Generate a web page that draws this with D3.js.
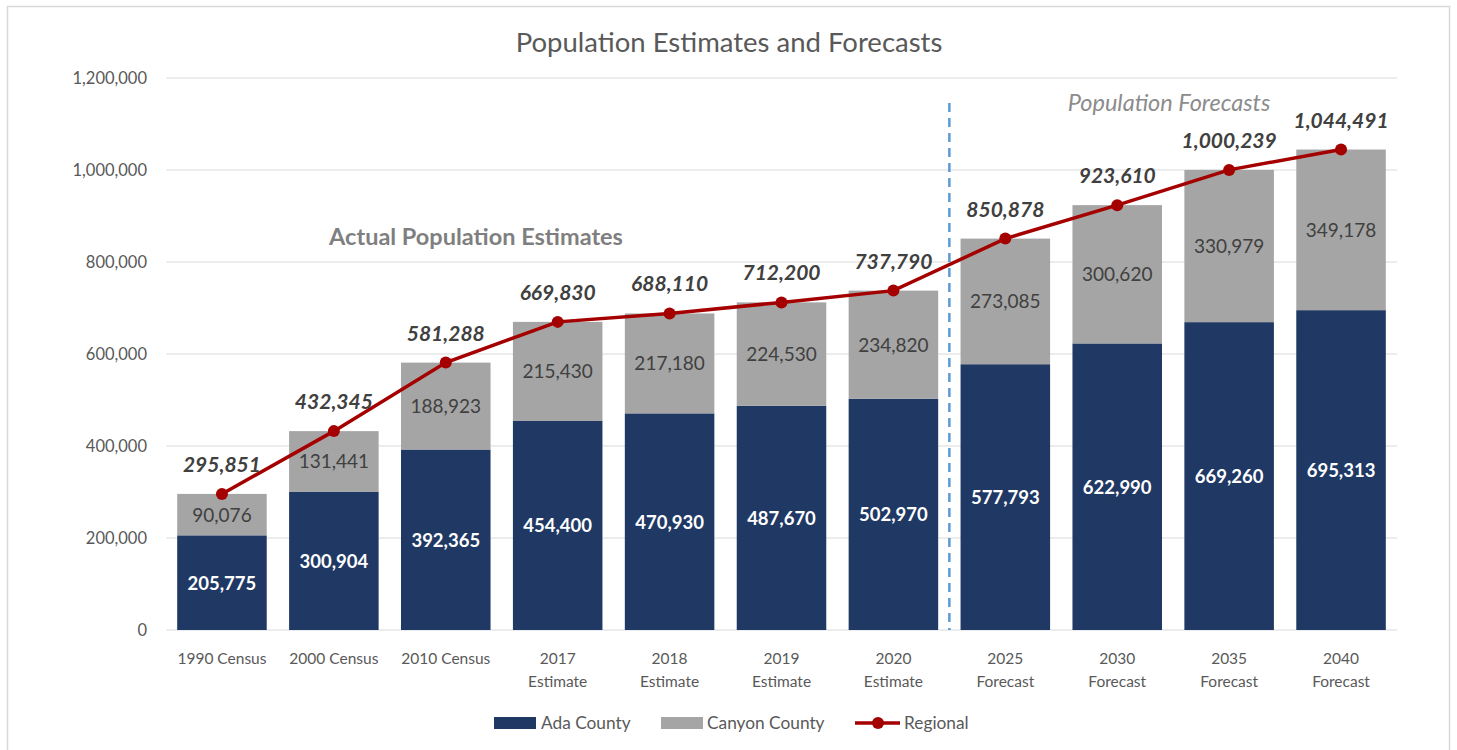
<!DOCTYPE html>
<html>
<head>
<meta charset="utf-8">
<script src="https://cdnjs.cloudflare.com/ajax/libs/d3/7.8.5/d3.min.js"></script>
<style>
  body { margin: 0; background: #fff; }
  text { font-family: Lato, "Open Sans", sans-serif; }
</style>
</head>
<body>
<div id="chart"></div>
<script>
// categories (line 1 / line 2 of x label)
let categories = ["1990 Census","2000 Census","2010 Census","2017 Estimate","2018 Estimate","2019 Estimate","2020 Estimate","2025 Forecast","2030 Forecast","2035 Forecast","2040 Forecast"];
let labelLines = [["1990 Census"],["2000 Census"],["2010 Census"],["2017","Estimate"],["2018","Estimate"],["2019","Estimate"],["2020","Estimate"],["2025","Forecast"],["2030","Forecast"],["2035","Forecast"],["2040","Forecast"]];
let ada = [205775,300904,392365,454400,470930,487670,502970,577793,622990,669260,695313];
let canyon = [90076,131441,188923,215430,217180,224530,234820,273085,300620,330979,349178];
let regional = [295851,432345,581288,669830,688110,712200,737790,850878,923610,1000239,1044491];
let yTicks = [0,200000,400000,600000,800000,1000000,1200000];

let width = 1457, height = 750;
let margin = {left:166, right:60, top:78, bottom:120};
let svg = d3.select("#chart").append("svg")
    .attr("width", width)
    .attr("height", height);

// outer frame
svg.append("rect")
    .attr("x",7.5).attr("y",6.5)
    .attr("width",1442).attr("height",760)
    .attr("fill","none").attr("stroke","#d9d9d9").attr("stroke-width",1.5);

let x = d3.scaleBand()
    .domain(categories)
    .range([margin.left, width - margin.right - 0])
    .paddingInner(0.2).paddingOuter(0.1);
let y = d3.scaleLinear()
    .domain([0,1200000])
    .range([630, 78]);

// title
svg.append("text")
    .attr("x", 729).attr("y", 52)
    .attr("text-anchor","middle")
    .attr("font-size", 27.5)
    .attr("fill","#595959")
    .text("Population Estimates and Forecasts");

// gridlines + y labels
let fmt = d3.format(",");
let yAxis = svg.append("g");
yAxis.selectAll("line").data(yTicks).enter().append("line")
    .attr("x1", margin.left).attr("x2", 1397)
    .attr("y1", d => y(d)).attr("y2", d => y(d))
    .attr("stroke","#d9d9d9").attr("stroke-width",1.2);
yAxis.selectAll("text").data(yTicks).enter().append("text")
    .attr("x", 147).attr("y", d => y(d) + 6)
    .attr("text-anchor","end")
    .attr("font-size", 16.5)
    .attr("fill","#595959")
    .text(d => fmt(d));

// stacked bars
let bars = svg.append("g");
bars.selectAll(".ada").data(categories).enter().append("rect")
    .attr("x", d => x(d)).attr("width", x.bandwidth())
    .attr("y", (d,i) => y(ada[i]))
    .attr("height", (d,i) => y(0) - y(ada[i]))
    .attr("fill","#203864");
bars.selectAll(".canyon").data(categories).enter().append("rect")
    .attr("x", d => x(d)).attr("width", x.bandwidth())
    .attr("y", (d,i) => y(ada[i] + canyon[i]))
    .attr("height", (d,i) => y(ada[i]) - y(ada[i] + canyon[i]))
    .attr("fill","#a5a5a5");

// bar labels
let cx = d => x(d) + x.bandwidth()/2;
svg.append("g").selectAll("text").data(categories).enter().append("text")
    .attr("x", cx)
    .attr("y", (d,i) => y(ada[i]/2) + 7)
    .attr("text-anchor","middle")
    .attr("font-size", 18.5).attr("font-weight","bold")
    .attr("fill","#fff")
    .text((d,i) => fmt(ada[i]));
svg.append("g").selectAll("text").data(categories).enter().append("text")
    .attr("x", cx)
    .attr("y", (d,i) => y(ada[i] + canyon[i]/2) + 7)
    .attr("text-anchor","middle")
    .attr("font-size", 19)
    .attr("fill","#404040")
    .text((d,i) => fmt(canyon[i]));

// divider between estimates and forecasts
let divX = (cx(categories[6]) + cx(categories[7])) / 2;
svg.append("line")
    .attr("x1", divX).attr("x2", divX)
    .attr("y1", 103).attr("y2", 630)
    .attr("stroke","#5b9bd5").attr("stroke-width",2.5)
    .attr("stroke-dasharray","9,6");

// regional line
let line = d3.line()
    .x((d,i) => cx(categories[i]))
    .y(d => y(d));
svg.append("path")
    .datum(regional)
    .attr("d", line)
    .attr("fill","none")
    .attr("stroke","#a50000")
    .attr("stroke-width",3.5);
svg.append("g").selectAll("circle").data(regional).enter().append("circle")
    .attr("cx", (d,i) => cx(categories[i]))
    .attr("cy", d => y(d))
    .attr("r", 6)
    .attr("fill","#a50000");
svg.append("g").selectAll("text").data(regional).enter().append("text")
    .attr("x", (d,i) => cx(categories[i]))
    .attr("y", d => y(d) - 22)
    .attr("text-anchor","middle")
    .attr("font-size", 21).attr("font-weight","bold").attr("font-style","italic")
    .attr("fill","#404040")
    .text(d => fmt(d));

// annotations
svg.append("text")
    .attr("x", 476).attr("y", 245)
    .attr("text-anchor","middle")
    .attr("font-size", 23.5).attr("font-weight","bold")
    .attr("fill","#7f7f7f")
    .text("Actual Population Estimates");
svg.append("text")
    .attr("x", 1169).attr("y", 111)
    .attr("text-anchor","middle")
    .attr("font-size", 23.5).attr("font-style","italic")
    .attr("fill","#8c8c8c")
    .text("Population Forecasts");

// x labels
let xl = svg.append("g").selectAll("text").data(categories).enter().append("text")
    .attr("x", cx)
    .attr("y", 664)
    .attr("text-anchor","middle")
    .attr("font-size", 15.5)
    .attr("fill","#595959");
xl.each(function(d,i) {
    let t = d3.select(this);
    labelLines[i].forEach((s,j) => {
        t.append("tspan").attr("x", cx(d)).attr("dy", j ? 23 : 0).text(s);
    });
});

// legend
let lg = svg.append("g");
lg.append("rect").attr("x",494).attr("y",717).attr("width",42).attr("height",12).attr("fill","#203864");
lg.append("text").attr("x",541).attr("y",729).attr("font-size",17.3).attr("fill","#595959").text("Ada County");
lg.append("rect").attr("x",661).attr("y",717).attr("width",42).attr("height",12).attr("fill","#a5a5a5");
lg.append("text").attr("x",707).attr("y",729).attr("font-size",17.3).attr("fill","#595959").text("Canyon County");
lg.append("line").attr("x1",855).attr("x2",900).attr("y1",723).attr("y2",723).attr("stroke","#a50000").attr("stroke-width",3.5);
lg.append("circle").attr("cx",878).attr("cy",723).attr("r",6).attr("fill","#a50000");
lg.append("text").attr("x",904).attr("y",729).attr("font-size",17.3).attr("fill","#595959").text("Regional");
</script>
</body>
</html>
